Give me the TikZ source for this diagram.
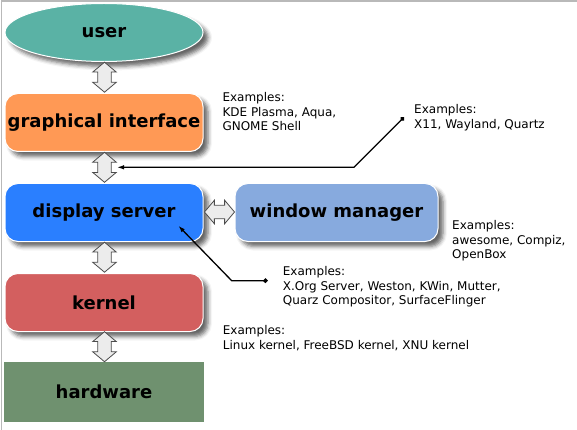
\documentclass[tikz,border=0pt]{standalone}
\usepackage{fontspec}
\setmainfont{DejaVu Sans}
\usetikzlibrary{arrows.meta,positioning,shapes,shadows.blur}

\definecolor{usercol}{HTML}{5AB2A5}
\definecolor{guicol}{HTML}{FF9955}
\definecolor{dispcol}{HTML}{2A7FFF}
\definecolor{wmcol}{HTML}{87AADE}
\definecolor{kerncol}{HTML}{D35F5F}
\definecolor{hwcol}{HTML}{6F916F}

\tikzset{
  layer/.style={draw=white, line width=1pt, minimum width=198pt, minimum height=58pt,
    inner sep=0pt, font=\fontsize{18}{20}\selectfont\bfseries,
    blur shadow={shadow xshift=5pt, shadow yshift=-5pt, shadow blur radius=4pt, shadow opacity=60}},
  box/.style={layer, rounded corners=13pt},
  hwbox/.style={fill=hwcol, minimum width=200pt, minimum height=60pt, inner sep=0pt,
    font=\fontsize{18}{20}\selectfont\bfseries},
  dblarrow/.style={double arrow, draw=gray!60!black, fill=gray!15, line width=0.8pt,
    minimum height=30pt, double arrow head extend=5pt,
    double arrow tip angle=100, inner xsep=0pt, inner ysep=6.35pt},
  example/.style={align=left, anchor=north west, inner sep=0pt, font=\fontsize{12}{14.7}\selectfont},
  conn/.style={{Circle[length=4.5pt]}-{Latex[length=7pt,width=4.5pt]}, line width=1.3pt}
}

\begin{document}
\begin{tikzpicture}[x=1pt,y=-1pt]
    \useasboundingbox (0,0) rectangle (577,430);
    \draw[gray!55, line width=1.5pt] (1.5,430) -- (1.5,1) -- (577,1);

    % layers
    \node[ellipse, layer, fill=usercol] (user) at (104,32.5) {user};
    \node[box, fill=guicol] (gui) at (104,122.5) {graphical interface};
    \node[box, fill=dispcol] (disp) at (104,212.5) {display server};
    \node[box, fill=wmcol, minimum width=203pt] (wm) at (336.5,212.5) {window manager};
    \node[box, fill=kerncol] (kern) at (104,302.5) {kernel};
    \node[hwbox] (hw) at (104,391.7) {hardware};

    % double arrows
    \node[dblarrow, rotate=90] (usergui) at (104.5,77.2) {};
    \node[dblarrow, rotate=90] (guidisp) at (104.5,167.3) {};
    \node[dblarrow, rotate=90] (dispkern) at (104.5,257.2) {};
    \node[dblarrow, rotate=90] (kernhw) at (104.5,346.7) {};
    \node[dblarrow] (dispwm) at (219.5,212) {};

    % examples
    \node[example] (guiex) at (222.3,92) {Examples:\\KDE Plasma, Aqua,\\GNOME Shell};
    \node[example] (protoex) at (414,104) {Examples:\\X11, Wayland, Quartz};
    \node[example] (wmex) at (452,220) {Examples:\\awesome, Compiz,\\OpenBox};
    \node[example] (dispex) at (282.7,266) {Examples:\\X.Org Server, Weston, KWin, Mutter,\\Quarz Compositor, SurfaceFlinger};
    \node[example] (kernex) at (222.7,325) {Examples:\\Linux kernel, FreeBSD kernel, XNU kernel};

    % pointers
    \coordinate (protodot) at (404,117.3);
    \coordinate (guidisptip) at (117,167.3);
    \coordinate (dispdot) at (267.7,280.7);
    \coordinate (disptip) at (178.3,225.7);

    \draw[conn] (protodot) -- ++(-50,50) -- (guidisptip);
    \draw[conn] (dispdot) -- ++(-36,0) -- (disptip);

\end{tikzpicture}
\end{document}
